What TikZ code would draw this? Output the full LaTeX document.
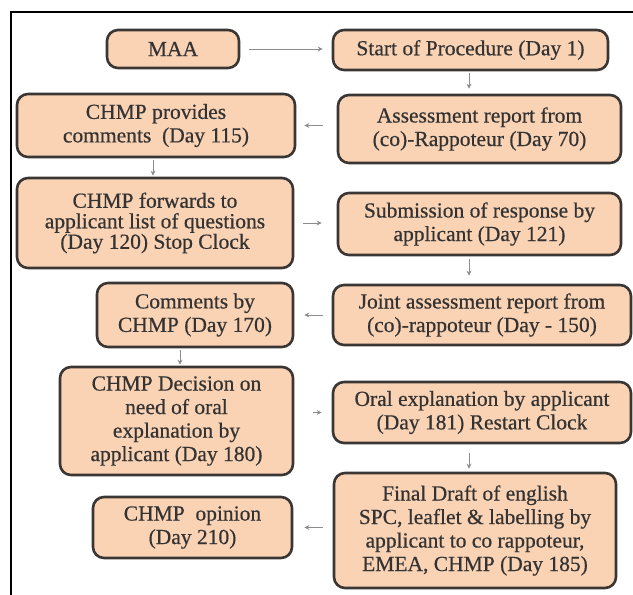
\documentclass[tikz,border=0pt]{standalone}
\usepackage{fontspec}
\newfontfamily\stagefont{Liberation Serif}[FakeBold=0.5]
\usetikzlibrary{arrows.meta,calc}
\definecolor{boxfill}{HTML}{FAD2B4}
\definecolor{boxline}{HTML}{3A3633}
\definecolor{txt}{HTML}{333333}
\definecolor{arrowgray}{HTML}{8C8C8C}
\begin{document}
\begin{tikzpicture}[x=1pt,y=-1pt,
  stage/.style={draw=boxline, line width=2.6pt, fill=boxfill, rounded corners=11pt,
    align=center, text=txt, font=\stagefont\fontsize{21.5}{23.5}\selectfont, inner sep=0pt},
  flow/.style={draw=arrowgray, line width=1pt, -{Stealth[length=5pt,width=5pt]}}]
\useasboundingbox (0,0) rectangle (633,595);
% frame
\draw[line width=2pt] (11,595) -- (11,12) -- (633,12);

% stages
\node[stage, minimum width=132pt, minimum height=38pt] (maa) at (173,49) {MAA};
\node[stage, minimum width=275pt, minimum height=40pt] (start) at (470.5,50) {Start of Procedure (Day 1)};
\node[stage, minimum width=283pt, minimum height=68pt] (assess) at (479.5,129) {Assessment report from\\(co)-Rappoteur (Day 70)};
\node[stage, minimum width=278pt, minimum height=63pt] (provides) at (156,125.5) {CHMP provides\\comments\ \ (Day 115)};
\node[stage, minimum width=276pt, minimum height=90pt, font=\stagefont\fontsize{21.5}{20.5}\selectfont] (forwards) at (155,223) {CHMP forwards to\\applicant list of questions\\(Day 120) Stop Clock};
\node[stage, minimum width=283pt, minimum height=62pt] (submission) at (479.5,224) {Submission of response by\\applicant (Day 121)};
\node[stage, minimum width=298pt, minimum height=60pt] (joint) at (482,315) {Joint assessment report from\\(co)-rappoteur (Day - 150)};
\node[stage, minimum width=196pt, minimum height=64pt] (comments) at (195,315) {Comments by\\CHMP (Day 170)};
\node[stage, minimum width=233pt, minimum height=108pt] (decision) at (176.5,421) {CHMP Decision on\\need of oral\\explanation by\\applicant (Day 180)};
\node[stage, minimum width=298pt, minimum height=61pt] (oral) at (482,412.5) {Oral explanation by applicant\\(Day 181) Restart Clock};
\node[stage, minimum width=282pt, minimum height=115pt] (final) at (475,530.5) {Final Draft of english\\SPC, leaflet \& labelling by\\applicant to co rappoteur,\\EMEA, CHMP (Day 185)};
\node[stage, minimum width=199pt, minimum height=61pt] (opinion) at (192.5,527.5) {CHMP\ \ opinion\\(Day 210)};

% columns of the vertical connectors
\coordinate (rcol) at (469,0);
\coordinate (lcol) at (153,0);
\coordinate (mcol) at (180,0);

% connectors
\draw[flow, shorten <=9pt, shorten >=9pt] (maa.east) -- (maa.east -| start.west);
\draw[flow, shorten <=2pt, shorten >=5pt] (rcol |- start.south) -- (rcol |- assess.north);
\draw[flow, shorten <=14pt, shorten >=8pt] (assess.west |- provides.east) -- (provides.east);
\draw[flow, shorten <=1.5pt, shorten >=1pt] (lcol |- provides.south) -- (lcol |- forwards.north);
\draw[flow, shorten <=9pt, shorten >=15pt] (forwards.east) -- (forwards.east -| submission.west);
\draw[flow, shorten <=3pt, shorten >=8pt] (rcol |- submission.south) -- (rcol |- joint.north);
\draw[flow, shorten <=9pt, shorten >=10pt] (joint.west |- comments.east) -- (comments.east);
\draw[flow, shorten <=1.5pt, shorten >=1pt] (mcol |- comments.south) -- (mcol |- decision.north);
\draw[flow, shorten <=19pt, shorten >=10pt] (decision.east |- oral.west) -- (oral.west);
\draw[flow, shorten <=9pt, shorten >=3pt] (rcol |- oral.south) -- (rcol |- final.north);
\draw[flow, shorten <=10pt, shorten >=11pt] (final.west |- opinion.east) -- (opinion.east);
\end{tikzpicture}
\end{document}
